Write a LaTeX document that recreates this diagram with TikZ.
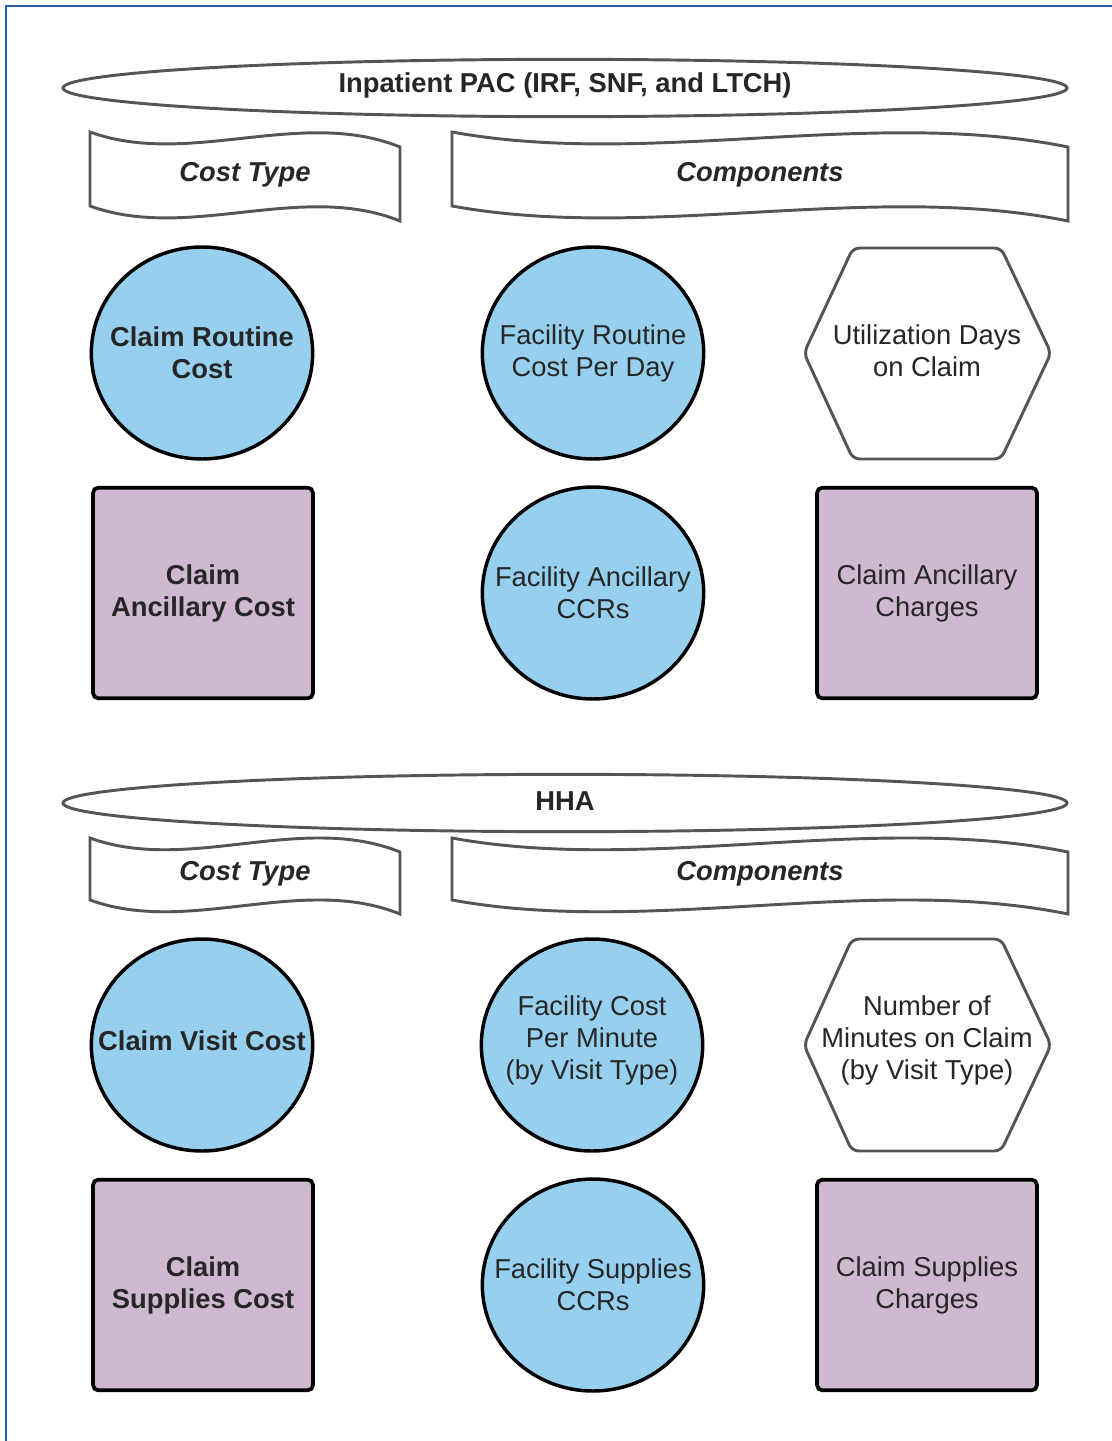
\documentclass[tikz,border=0pt]{standalone}
\usepackage{fontspec}
\setmainfont{Liberation Sans}
\usetikzlibrary{shapes.geometric}
\definecolor{frameblue}{HTML}{2A5CA8}
\definecolor{cblue}{HTML}{97D0EF}
\definecolor{cpurple}{HTML}{CFB9D0}
\definecolor{gline}{HTML}{555555}
\definecolor{txt}{HTML}{262626}
\begin{document}
\begin{tikzpicture}[x=0.75pt,y=-0.75pt,
  every node/.style={font=\fontsize{20.5}{24}\selectfont, text=txt, align=center, inner sep=0pt},
  bluecirc/.style={ellipse, draw=black, line width=2.6pt, fill=cblue, minimum width=166pt, minimum height=159pt},
  purpbox/.style={rectangle, rounded corners=4pt, draw=black, line width=2.8pt, fill=cpurple, minimum width=165pt, minimum height=158pt},
  hexline/.style={draw=gline, line width=2.2pt, rounded corners=5pt, fill=white},
  bannerline/.style={draw=gline, line width=2.2pt, fill=white},
  bigell/.style={ellipse, draw=gline, line width=2.2pt, fill=white, minimum width=753pt, minimum height=43pt},
  bold/.style={font=\fontsize{20.5}{24}\selectfont\bfseries},
  bannertxt/.style={font=\fontsize{20.5}{24}\selectfont\bfseries\itshape}
]
\useasboundingbox (0,0) rectangle (1112,1441);
\fill[white] (0,0) rectangle (1112,1441);
\draw[frameblue, line width=1.5pt] (6,1441) -- (6,6) -- (1112,6);

% ---------- Section 1 ----------
\node[bigell] (pac) at (565,88) {};
\node[bold] (pact) at (565,85) {Inpatient PAC (IRF, SNF, and LTCH)};

\draw[bannerline] (90,132) .. controls +(99,36) and +(-99,-40) .. (400,147) -- (400,221)
  .. controls +(-99,-40) and +(99,36) .. (90,206) -- cycle;
\node[bannertxt] (ct1) at (245,175) {Cost Type};
\draw[bannerline] (452,132) .. controls +(197,36) and +(-197,-40) .. (1068,147) -- (1068,221)
  .. controls +(-197,-40) and +(197,36) .. (452,206) -- cycle;
\node[bannertxt] (cp1) at (760,175) {Components};

\node[bluecirc] (crc) at (202,353) {};
\node[bold] (crct) at (crc) {Claim Routine\\Cost};
\node[bluecirc] (frc) at (593,353) {};
\node (frct) at (frc) {Facility Routine\\Cost Per Day};
\draw[hexline] (804,353) -- (853,248) -- (1001,248) -- (1051,353) -- (1001,459) -- (853,459) -- cycle;
\node (ud) at (927,351) {Utilization Days\\on Claim};

\node[purpbox] (cac) at (203,593) {};
\node[bold] (cact) at (cac) {Claim\\Ancillary Cost};
\node[bluecirc] (fac) at (593,593) {};
\node (fact) at (fac) {Facility Ancillary\\CCRs};
\node[purpbox] (cach) at (927,593) {};
\node (cacht) at (cach) {Claim Ancillary\\Charges};

% ---------- Section 2 ----------
\node[bigell] (hha) at (565,803) {};
\node[bold] (hhat) at (565,801) {HHA};

\draw[bannerline] (90,838) .. controls +(99,36) and +(-99,-40) .. (400,852) -- (400,914)
  .. controls +(-99,-40) and +(99,36) .. (90,900) -- cycle;
\node[bannertxt] (ct2) at (245,874) {Cost Type};
\draw[bannerline] (452,838) .. controls +(197,36) and +(-197,-40) .. (1068,852) -- (1068,914)
  .. controls +(-197,-40) and +(197,36) .. (452,900) -- cycle;
\node[bannertxt] (cp2) at (760,874) {Components};

\node[bluecirc] (cvc) at (202,1045) {};
\node[bold] (cvct) at (202,1041) {Claim Visit Cost};
\node[bluecirc] (fcm) at (592,1045) {};
\node (fcmt) at (592,1040) {Facility Cost\\Per Minute\\(by Visit Type)};
\draw[hexline] (804,1045) -- (852,939) -- (1001,939) -- (1051,1045) -- (1001,1151) -- (852,1151) -- cycle;
\node (nm) at (927,1040) {Number of\\Minutes on Claim\\(by Visit Type)};

\node[purpbox] (csc) at (203,1285) {};
\node[bold] (csct) at (csc) {Claim\\Supplies Cost};
\node[bluecirc] (fsc) at (593,1285) {};
\node (fsct) at (fsc) {Facility Supplies\\CCRs};
\node[purpbox] (csch) at (927,1285) {};
\node (cscht) at (csch) {Claim Supplies\\Charges};
\end{tikzpicture}
\end{document}
